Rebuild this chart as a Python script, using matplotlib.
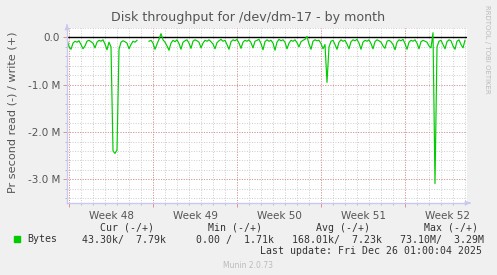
import numpy as np
import matplotlib
matplotlib.use("Agg")
import matplotlib.pyplot as plt
from matplotlib.patches import Rectangle

# ---- data (values in MB/s; negative = read) ----
values_m = [
    -0.03, -0.20, -0.25, -0.12, -0.08, -0.10, -0.07, -0.15, -0.24, -0.18,
    -0.08, -0.06, -0.09, -0.12, -0.22, -0.10, -0.06, -0.08, -0.05, -0.14,
    -0.26, -0.10, -0.20, -2.40, -2.45, -2.38, -0.25, -0.10, -0.07, -0.09,
    -0.12, -0.24, -0.15, -0.08, -0.10, -0.06, np.nan, np.nan, np.nan, np.nan,
    np.nan, -0.08, -0.06, -0.12, -0.25, -0.14, -0.04, 0.08, -0.05, -0.10,
    -0.18, -0.27, -0.12, -0.06, -0.09, -0.05, -0.13, -0.25, -0.10, -0.07,
    -0.05, -0.12, -0.23, -0.08, -0.05, -0.07, -0.10, -0.22, -0.12, -0.06,
    -0.08, -0.05, -0.09, -0.14, -0.24, -0.11, -0.07, -0.04, -0.08, -0.06,
    -0.15, -0.25, -0.09, -0.05, -0.07, -0.04, -0.12, -0.23, -0.10, -0.06,
    -0.08, -0.05, -0.11, -0.22, -0.08, -0.06, -0.04, -0.13, -0.26, -0.09,
    -0.05, -0.08, -0.06, -0.12, -0.27, -0.10, -0.04, -0.07, -0.05, -0.10,
    -0.24, -0.12, -0.06, -0.08, -0.05, -0.11, -0.20, -0.09, -0.06, -0.04,
    0.02, -0.14, -0.25, -0.08, -0.05, -0.07, -0.06, -0.13, -0.24, -0.15,
    -0.95, -0.20, -0.08, -0.06, -0.15, -0.25, -0.10, -0.05, -0.08, -0.06,
    -0.14, -0.24, -0.09, -0.05, -0.07, -0.04, -0.12, -0.25, -0.10, -0.06,
    -0.08, -0.05, -0.13, -0.24, -0.09, -0.05, -0.07, -0.10, -0.18, -0.23,
    -0.08, -0.06, -0.09, -0.15, -0.26, -0.10, -0.05, -0.07, -0.04, -0.13,
    -0.25, -0.10, -0.06, -0.08, -0.05, -0.12, -0.24, -0.09, -0.06, -0.08,
    -0.10, -0.18, -0.22, 0.10, -3.09, -0.20, -0.08, -0.06, -0.15, -0.24,
    -0.09, -0.05, -0.07, -0.18, -0.25, -0.08, -0.05, -0.15, -0.22, -0.06,
]
sample_hours = 4  # one sample every 4 hours
week_labels = ["Week 48", "Week 49", "Week 50", "Week 51", "Week 52"]
week_start_days = [0.1667, 7.1667, 14.1667, 21.1667, 28.1667]
ytick_vals = [0.0, -1.0, -2.0, -3.0]
ytick_labels = ["0.0", "-1.0 M", "-2.0 M", "-3.0 M"]

legend_name = "Bytes"
legend_header = "   Cur (-/+)         Min (-/+)         Avg (-/+)         Max (-/+)"
legend_values = "43.30k/  7.79k     0.00 /  1.71k   168.01k/  7.23k   73.10M/  3.29M"
last_update = "Last update: Fri Dec 26 01:00:04 2025"

# ---- figure ----
W, H = 497, 275
fig = plt.figure(figsize=(W / 100, H / 100), dpi=100, facecolor="#F0F0F0")
L, R, T, B = 67, 467, 28, 203
ax = fig.add_axes([L / W, 1 - B / H, (R - L) / W, (B - T) / H])
ax.set_facecolor("white")

days = np.arange(len(values_m)) * sample_hours / 24.0
xmax = (R - L) / 12.0
ax.set_xlim(0, xmax)
ax.set_ylim(-3.5, 0.2)

grey_grid = "#CCCCCC"
red_grid = "#E09090"
dots = (0, (1, 1.6))
minor_days = np.arange(week_start_days[0], xmax, 1.0)
minor_y = np.arange(-3.4, 0.21, 0.2)
# minor grid
for d in minor_days:
    ax.axvline(d, color=grey_grid, lw=0.7, ls=dots, zorder=1)
for yv in minor_y:
    ax.axhline(yv, color=grey_grid, lw=0.7, ls=dots, zorder=1)
# major grid
for d in week_start_days:
    ax.axvline(d, color=red_grid, lw=0.7, ls=dots, zorder=2)
for yv in ytick_vals[1:]:
    ax.axhline(yv, color=red_grid, lw=0.7, ls=dots, zorder=2)

# small tick marks outside the axes
xt = ax.get_xaxis_transform()
yt = ax.get_yaxis_transform()
ax.vlines(minor_days, -0.012, 0, transform=xt, color="#BBBBBB", lw=0.7, clip_on=False)
ax.vlines(week_start_days, -0.025, 0, transform=xt, color=red_grid, lw=0.7, clip_on=False)
ax.hlines(minor_y, -0.006, 0, transform=yt, color="#BBBBBB", lw=0.7, clip_on=False)
ax.hlines(ytick_vals, -0.01, 0, transform=yt, color=red_grid, lw=0.7, clip_on=False)

ax.axhline(0, color="black", lw=1.0, zorder=3)
ax.plot(days, values_m, color="#00CC00", lw=0.85, zorder=4)

for s in ["top", "right"]:
    ax.spines[s].set_visible(False)
for s in ["left", "bottom"]:
    ax.spines[s].set_color("#C8C8F0")
    ax.spines[s].set_linewidth(1.0)
    ax.spines[s].set_zorder(5)

ax.set_yticks(ytick_vals)
ax.set_yticklabels(ytick_labels)
ax.set_xticks([d + 3.5 for d in week_start_days])
ax.set_xticklabels(week_labels)
ax.tick_params(axis="both", length=0, labelsize=7.5, colors="#555555", pad=5)
ax.tick_params(axis="x", pad=6)

# arrows on axes
ax.annotate("", xy=(L / W, 1 - (T - 6) / H), xytext=(L / W, 1 - T / H),
            xycoords="figure fraction",
            arrowprops=dict(arrowstyle="-|>", color="#C8C8F0", lw=1, mutation_scale=6))
ax.annotate("", xy=((R + 6) / W, 1 - B / H), xytext=(R / W, 1 - B / H),
            xycoords="figure fraction",
            arrowprops=dict(arrowstyle="-|>", color="#C8C8F0", lw=1, mutation_scale=6))

fig.text(248 / W, 1 - 18 / H, "Disk throughput for /dev/dm-17 - by month",
         ha="center", va="center", fontsize=9.1, color="#555555")
fig.text(13 / W, 1 - 112 / H, "Pr second read (-) / write (+)", rotation=90,
         ha="center", va="center", fontsize=8.1, color="#555555")
fig.text(487 / W, 1 - 5 / H, "RRDTOOL / TOBI OETIKER", rotation=270,
         ha="center", va="top", fontsize=5, color="#BBBBBB")

mono = "DejaVu Sans Mono"
fig.patches.append(Rectangle((14 / W, 1 - 242 / H), 6 / W, 6 / H,
                             transform=fig.transFigure, color="#00CC00"))
fig.text(27 / W, 1 - 239.5 / H, legend_name, family=mono, fontsize=7.1,
         color="#333333", va="center", ha="left")
fig.text(82 / W, 1 - 228 / H, legend_header, family=mono, fontsize=7.1,
         color="#333333", va="center", ha="left")
fig.text(82 / W, 1 - 239.5 / H, legend_values, family=mono, fontsize=7.1,
         color="#333333", va="center", ha="left")
fig.text(482 / W, 1 - 251 / H, last_update, family=mono, fontsize=7.1,
         color="#333333", va="center", ha="right")
fig.text(248 / W, 1 - 265 / H, "Munin 2.0.73", fontsize=5.5,
         color="#BBBBBB", va="center", ha="center")

fig.savefig("out.png", dpi=100, facecolor=fig.get_facecolor())
